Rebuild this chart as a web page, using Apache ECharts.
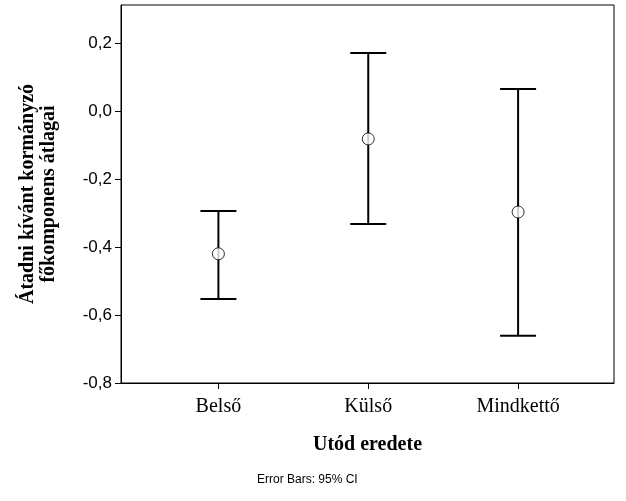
<!DOCTYPE html>
<html><head><meta charset="utf-8">
<script src="https://cdn.jsdelivr.net/npm/echarts@6/dist/echarts.min.js"></script>
<style>html,body{margin:0;padding:0;background:#fff}#c{width:626px;height:501px}</style>
</head><body><div id="c"></div>
<script>
const categories = ['Belső', 'Külső', 'Mindkettő'];
const means = [-0.420, -0.082, -0.297];
const lowers = [-0.553, -0.332, -0.661];
const uppers = [-0.294, 0.171, 0.065];
const yTicks = [-0.8, -0.6, -0.4, -0.2, 0.0, 0.2];

const chart = echarts.init(document.getElementById('c'));
const serif = '"Liberation Serif","DejaVu Serif",serif';
chart.setOption({
  animation: false,
  backgroundColor: '#fff',
  grid: {left: 121, top: 5, right: 12, bottom: 118, show: true, borderColor: '#000', borderWidth: 1, backgroundColor: '#fff'},
  xAxis: {
    type: 'value', min: 0.35, max: 3.64, interval: 1,
    axisLine: {show: true, onZero: false, lineStyle: {color: '#000'}},
    axisTick: {show: true, length: 6, lineStyle: {color: '#000'}, customValues: [1,2,3]},
    axisLabel: {customValues: [1,2,3], formatter: v => categories[Math.round(v) - 1] || '', color: '#000', fontFamily: serif, fontSize: 20, margin: 14},
    splitLine: {show: false},
    name: 'Utód eredete', nameLocation: 'middle', nameGap: 52,
    nameTextStyle: {fontFamily: serif, fontSize: 20, fontWeight: 'bold', color: '#000'}
  },
  yAxis: {
    type: 'value', min: -0.8, max: 0.312, interval: 0.2,
    axisLine: {show: true, onZero: false, lineStyle: {color: '#000'}},
    axisTick: {show: true, length: 6, lineStyle: {color: '#000'}},
    axisLabel: {showMaxLabel: false, formatter: v => v.toFixed(1).replace('.', ','), color: '#000', fontFamily: 'Liberation Sans, Arial, sans-serif', fontSize: 17, margin: 9},
    splitLine: {show: false},
    name: 'Átadni kívánt kormányzó\nfőkomponens átlagai', nameLocation: 'middle', nameGap: 62,
    nameTextStyle: {fontFamily: serif, fontSize: 20, fontWeight: 'bold', color: '#000', lineHeight: 21}
  },
  graphic: [{type: 'text', left: 257, top: 474, style: {text: 'Error Bars: 95% CI', fontFamily: 'Liberation Sans, Arial, sans-serif', fontSize: 12, fill: '#000'}}],
  series: [
    {
      type: 'custom',
      data: categories.map((c, i) => [i + 1, lowers[i], uppers[i]]),
      renderItem: function (params, api) {
        const x = api.value(0);
        const lo = api.coord([x, api.value(1)]);
        const hi = api.coord([x, api.value(2)]);
        const w = 18;
        const st = {stroke: '#000', lineWidth: 2};
        return {type: 'group', children: [
          {type: 'line', shape: {x1: lo[0], y1: lo[1], x2: hi[0], y2: hi[1]}, style: st},
          {type: 'line', shape: {x1: lo[0] - w, y1: lo[1], x2: lo[0] + w, y2: lo[1]}, style: st},
          {type: 'line', shape: {x1: hi[0] - w, y1: hi[1], x2: hi[0] + w, y2: hi[1]}, style: st}
        ]};
      },
      z: 2
    },
    {
      type: 'scatter',
      data: categories.map((c, i) => [i + 1, means[i]]),
      symbol: 'circle', symbolSize: 12,
      itemStyle: {color: '#fff', borderColor: '#000', borderWidth: 1},
      z: 3
    }
  ]
});
</script></body></html>
